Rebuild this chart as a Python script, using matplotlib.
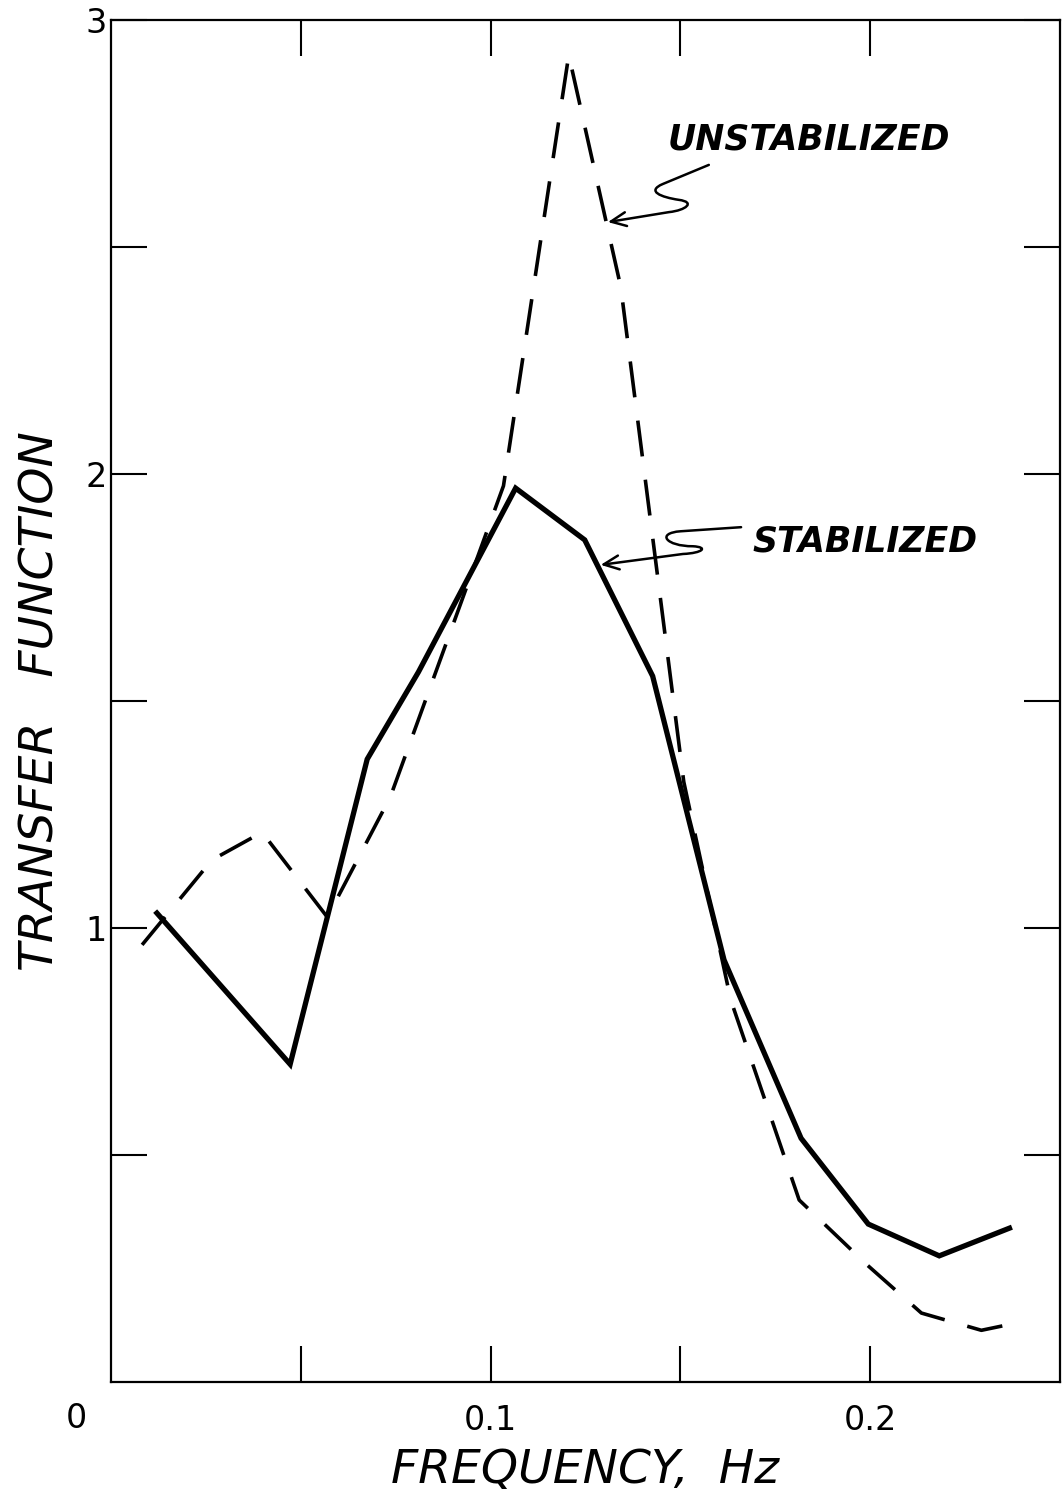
import matplotlib
matplotlib.use("Agg")
import matplotlib.pyplot as plt
from matplotlib.path import Path
from matplotlib.patches import FancyArrowPatch

# Values
freq_stab = [0.0121, 0.0472, 0.0675, 0.0810, 0.1066, 0.1248, 0.1427,
             0.1615, 0.1818, 0.1995, 0.2182, 0.2367]
tf_stab = [1.033, 0.700, 1.372, 1.564, 1.969, 1.855, 1.555,
           0.930, 0.537, 0.348, 0.278, 0.339]

freq_unstab = [0.0082, 0.0266, 0.0398, 0.0570, 0.0736, 0.1034, 0.1206,
               0.1343, 0.1509, 0.1633, 0.1813, 0.1992, 0.2135, 0.2293, 0.2385]
tf_unstab = [0.963, 1.150, 1.211, 1.024, 1.289, 1.974, 2.923,
             2.412, 1.322, 0.841, 0.401, 0.258, 0.152, 0.114, 0.130]

x_ticks = [0.05, 0.10, 0.15, 0.20]
x_ticklabels = ["", "0.1", "", "0.2"]
y_ticks = [0.5, 1.0, 1.5, 2.0, 2.5, 3.0]
y_ticklabels = ["", "1", "", "2", "", "3"]

fig = plt.figure(figsize=(10.64, 14.98), dpi=100)
ax = fig.add_axes([0.1043, 0.0774, 0.8919, 0.9092])

ax.plot(freq_stab, tf_stab, color="black", lw=3.8, solid_joinstyle="miter")
ax.plot(freq_unstab, tf_unstab, color="black", lw=2.6, dashes=(10, 6.5))

ax.set_xlim(0, 0.25)
ax.set_ylim(0, 3)

for s in ax.spines.values():
    s.set_linewidth(1.6)

ax.set_xticks(x_ticks)
ax.set_xticklabels(x_ticklabels)
ax.set_yticks(y_ticks)
ax.set_yticklabels(y_ticklabels)
ax.tick_params(direction="in", length=26, width=1.5, top=True, right=True,
               labelsize=24, pad=16)
ax.tick_params(axis="y", pad=3)

ax.text(-0.036, -0.027, "0", transform=ax.transAxes, fontsize=24,
        ha="center", va="center")

ax.set_xlabel("FREQUENCY,  Hz", fontsize=34, style="italic", labelpad=8)
ax.set_ylabel("TRANSFER   FUNCTION", fontsize=34, style="italic", labelpad=16)

ax.text(0.1467, 2.736, "UNSTABILIZED", fontsize=25, style="italic",
        fontweight="bold", ha="left", va="center")
ax.text(0.1690, 1.852, "STABILIZED", fontsize=25, style="italic",
        fontweight="bold", ha="left", va="center")

# squiggly leader arrows
codes = [Path.MOVETO, Path.LINETO, Path.CURVE4, Path.CURVE4, Path.CURVE4,
         Path.CURVE4, Path.CURVE4, Path.CURVE4, Path.LINETO]
unstab_path = Path([(0.1575, 2.681), (0.1454, 2.639), (0.1409, 2.623),
                    (0.1449, 2.610), (0.1496, 2.604), (0.1541, 2.599),
                    (0.1515, 2.581), (0.1470, 2.577), (0.1309, 2.555)], codes)
stab_path = Path([(0.1660, 1.883), (0.1501, 1.874), (0.1435, 1.870),
                  (0.1462, 1.841), (0.1533, 1.841), (0.1575, 1.839),
                  (0.1559, 1.826), (0.1507, 1.824), (0.1290, 1.800)], codes)
for p in (unstab_path, stab_path):
    ax.add_patch(FancyArrowPatch(path=p, arrowstyle="->,head_length=11,head_width=5",
                                 color="black", lw=1.8))

fig.savefig("out.png", dpi=100)
